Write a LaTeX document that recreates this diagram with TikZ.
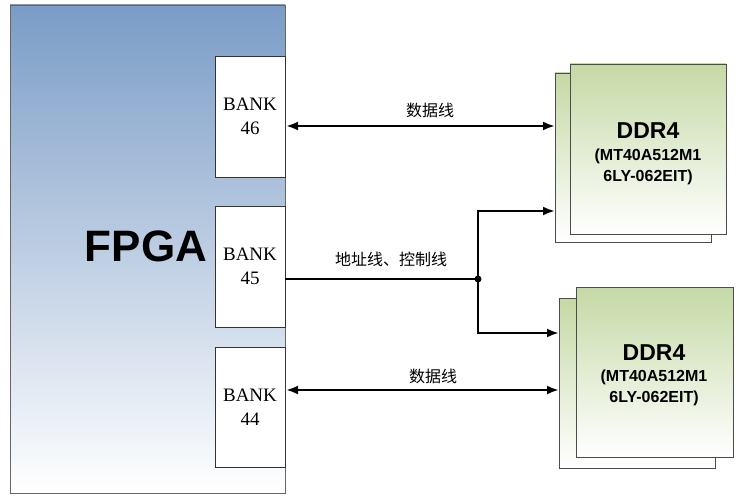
\documentclass[tikz,border=0pt]{standalone}
\usepackage{fontspec}
\setmainfont{Liberation Serif}
\newfontfamily\cjk{Noto Sans CJK SC}
\newfontfamily\sansb{Liberation Sans}
\usetikzlibrary{arrows.meta}
\definecolor{fblue}{HTML}{7A9CC6}
\definecolor{dgreen}{HTML}{C5D9A5}
\begin{document}
\begin{tikzpicture}[x=1pt,y=-1pt,
  bank/.style={draw=black!80,fill=white,line width=0.8pt},
  ddr/.style={draw=black!70,line width=0.8pt,top color=dgreen,bottom color=white},
  bus/.style={line width=2.8pt,-{Latex[length=12pt,width=9pt]}},
  dbus/.style={line width=2.8pt,{Latex[length=12pt,width=9pt]}-{Latex[length=12pt,width=9pt]}},
  lbl/.style={font=\cjk\fontsize{16}{16}\selectfont},
  btxt/.style={font=\fontsize{19}{24}\selectfont,align=center},
  dt1/.style={font=\sansb\bfseries\fontsize{23}{23}\selectfont},
  dt2/.style={font=\sansb\bfseries\fontsize{16}{16}\selectfont}]
\useasboundingbox (0,0) rectangle (749,500);
\fill[top color=fblue,bottom color=white,draw=black!60] (10,5) rectangle (285,493);
\node[font=\sansb\bfseries\fontsize{44}{44}\selectfont] (fpga) at (146,246) {FPGA};
\draw[bank] (215,56) rectangle (285,177); \node[btxt] (b46) at (250,116) {BANK\\46};
\draw[bank] (215,206) rectangle (285,327); \node[btxt] (b45) at (250,266) {BANK\\45};
\draw[bank] (215,347) rectangle (285,467); \node[btxt] (b44) at (250,407) {BANK\\44};
\draw[ddr] (555,73) rectangle (711,242);
\draw[ddr] (570,64) rectangle (726,234);
\node[dt1] (d1a) at (648,131) {DDR4};
\node[dt2] (d1b) at (648,156) {(MT40A512M1};
\node[dt2] (d1c) at (648,177) {6LY-062EIT)};
\draw[ddr] (559,298) rectangle (715,468);
\draw[ddr] (576,287) rectangle (733,457);
\node[dt1] (d2a) at (654,353) {DDR4};
\node[dt2] (d2b) at (654,377) {(MT40A512M1};
\node[dt2] (d2c) at (654,398) {6LY-062EIT)};
\coordinate (a1) at (286,126); \coordinate (a2) at (555,126);
\draw[dbus] (a1) -- (a2);
\coordinate (m0) at (285,279); \coordinate (j) at (478,279);
\coordinate (t1) at (478,211); \coordinate (t2) at (555,211);
\coordinate (u1) at (478,333); \coordinate (u2) at (559,333);
\draw[line width=2.8pt] (m0) -- (j);
\draw[bus] (j) -- (t1) -- (t2);
\draw[bus] (j) -- (u1) -- (u2);
\fill (j) circle (3.5);
\coordinate (c1) at (286,390); \coordinate (c2) at (559,390);
\draw[dbus] (c1) -- (c2);
\node[lbl] (l1) at (430,110) {数据线};
\node[lbl] (l2) at (391,259) {地址线、控制线};
\node[lbl] (l3) at (433,376) {数据线};
\end{tikzpicture}
\end{document}
